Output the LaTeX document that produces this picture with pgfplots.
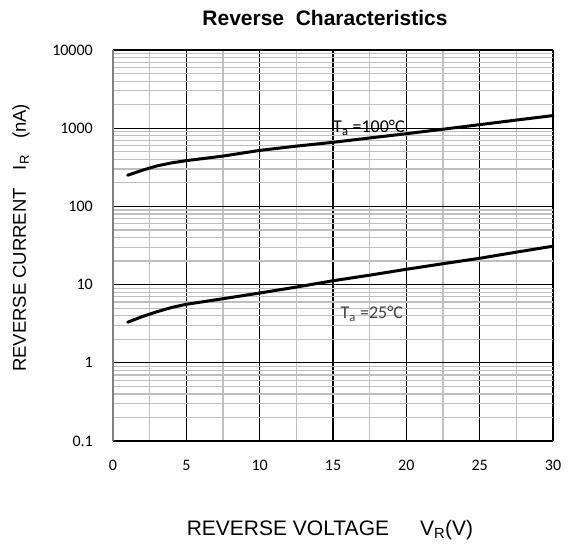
\documentclass[border=0pt]{standalone}
\usepackage{fontspec}
\setmainfont{Liberation Sans}
\newfontfamily\calfont{Carlito}
\usepackage{pgfplots}
\pgfplotsset{compat=1.18}
\begin{document}
\begin{tikzpicture}
\path (0bp,0bp) rectangle (569bp,549bp);
\begin{axis}[
  at={(113bp,108bp)}, anchor=south west,
  scale only axis, width=440bp, height=391bp,
  xmin=0, xmax=30, ymode=log, ymin=0.1, ymax=10000,
  xtick={5,10,...,30}, xticklabels={5,10,15,20,25,30},
  extra x ticks={0}, extra x tick labels={0},
  extra x tick style={grid=none},
  minor xtick={2.5,7.5,...,27.5},
  ytick={0.1,1,10,100,1000,10000},
  yticklabels={0.1,1,10,100,1000,10000},
  minor ytick={0.2,0.3,0.4,0.5,0.6,0.7,0.8,0.9,2,3,4,5,6,7,8,9,20,30,40,50,60,70,80,90,200,300,400,500,600,700,800,900,2000,3000,4000,5000,6000,7000,8000,9000},
  grid=both,
  major grid style={black, line width=1.2bp},
  minor grid style={black!25, line width=1.2bp},
  axis x line=bottom, axis y line=left,
  x axis line style={black, line width=1.6bp, -},
  y axis line style={black!50, line width=1.3bp, -},
  major tick length=0pt, minor tick length=0pt,
  tick style={draw=none},
  every tick label/.append style={font=\calfont\fontsize{16bp}{18bp}\selectfont, inner sep=0pt},
  yticklabel style={xshift=-20bp},
  xticklabel style={anchor=north, yshift=-19bp},
  clip=false,
]
\addplot[black, line width=3bp, line join=round, line cap=round] coordinates {
(1,250)(2,290)(3,330)(4,360)(5,385)(7.5,440)(10,520)(12.5,590)(15,660)(17.5,750)(20,850)(22.5,970)(25,1110)(27.5,1270)(30,1450)};
\addplot[black, line width=3bp, line join=round, line cap=round] coordinates {
(1,3.3)(2,3.9)(3,4.5)(4,5.1)(5,5.6)(7.5,6.6)(10,7.8)(12.5,9.3)(15,11.2)(17.5,13.2)(20,15.7)(22.5,18.5)(25,21.7)(27.5,26)(30,31)};
\node[font=\calfont\fontsize{18bp}{20bp}\selectfont, inner sep=0pt] at (axis cs:17.45,1010) {T\textsubscript{a} =100°C};
\node[font=\calfont\fontsize{18bp}{20bp}\selectfont, inner sep=0pt, text=black!75] at (axis cs:17.65,4.2) {T\textsubscript{a} =25°C};
\end{axis}
\node[font=\bfseries\fontsize{21bp}{23bp}\selectfont] at (325bp,531bp) {Reverse\ \ Characteristics};
\node[font=\fontsize{18.5bp}{21bp}\selectfont, rotate=90] at (21bp,311bp) {REVERSE CURRENT\hspace{18bp}I\textsubscript{R}\hspace{16bp}(nA)};
\node[font=\fontsize{21bp}{23bp}\selectfont, anchor=base] at (330bp,14bp) {REVERSE VOLTAGE\hspace{31bp}V\textsubscript{R}(V)};
\end{tikzpicture}
\end{document}
